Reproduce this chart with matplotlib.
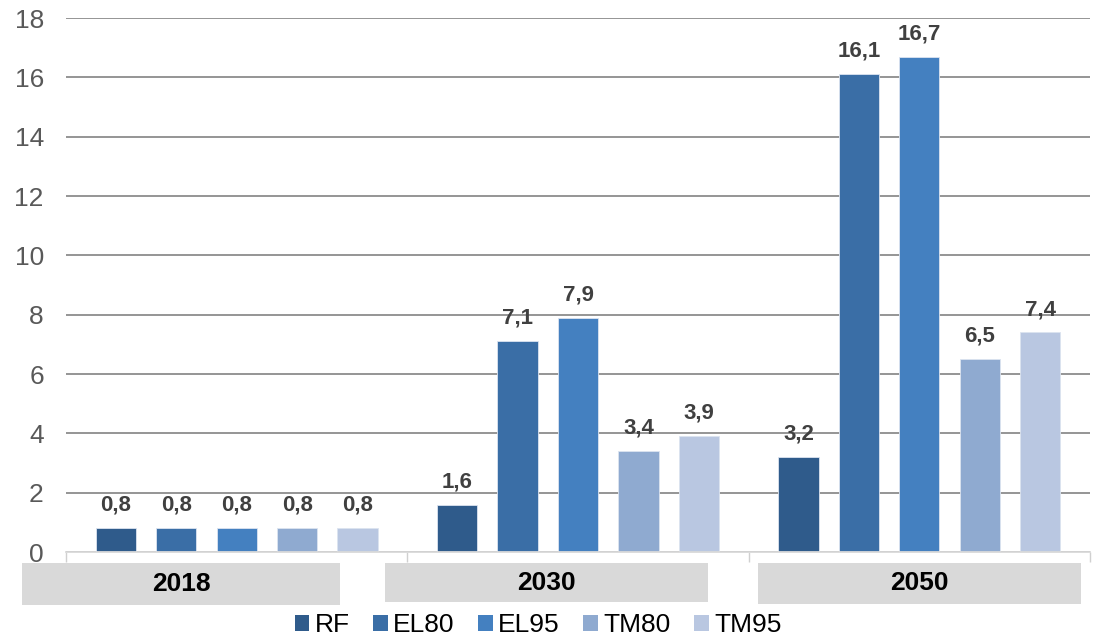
import numpy as np
import matplotlib
matplotlib.use('Agg')
import matplotlib.pyplot as plt
from matplotlib.patches import Rectangle

plt.rcParams['font.family'] = ['Liberation Sans', 'DejaVu Sans']

years = ['2018', '2030', '2050']
series = ['RF', 'EL80', 'EL95', 'TM80', 'TM95']
values = {
    'RF':   [0.8, 1.6, 3.2],
    'EL80': [0.8, 7.1, 16.1],
    'EL95': [0.8, 7.9, 16.7],
    'TM80': [0.8, 3.4, 6.5],
    'TM95': [0.8, 3.9, 7.4],
}
colors = ['#2F5B8B', '#3A6EA6', '#4480C0', '#8FAAD0', '#B9C7E1']

W, H = 1097, 638
fig = plt.figure(figsize=(W / 100, H / 100), dpi=100)
ax = fig.add_axes([66 / W, 1 - 552 / H, (1090 - 66) / W, (552 - 18) / H])

x = np.arange(len(years))
step = 0.177
width = 0.118
for i, (name, col) in enumerate(zip(series, colors)):
    pos = x + (i - 2) * step
    bars = ax.bar(pos, values[name], width, color=col, edgecolor='#dce4f0',
                  linewidth=0.6, label=name, zorder=3)
    for b, v in zip(bars, values[name]):
        ax.text(b.get_x() + b.get_width() / 2, v + 0.42, f'{v:.1f}'.replace('.', ','),
                ha='center', va='bottom', fontsize=16, fontweight='bold',
                color='#404040', zorder=4)

ax.set_xlim(-0.5, 2.5)
ax.set_ylim(0, 18)
ax.set_yticks(range(0, 19, 2))
ax.tick_params(axis='y', length=0, labelsize=19, labelcolor='#595959', pad=16)
ax.set_xticks([-0.5, 0.5, 1.5, 2.5])
ax.set_xticklabels([])
ax.tick_params(axis='x', length=7, color='#d0d0d0', width=1)
ax.yaxis.grid(True, color='#8c8c8c', linewidth=1.3, zorder=0)
for s in ['top', 'right', 'left']:
    ax.spines[s].set_visible(False)
ax.spines['bottom'].set_color('#d9d9d9')
ax.spines['bottom'].set_linewidth(1.3)
ax.spines['bottom'].set_zorder(5)

# gray year boxes under the groups
boxes = [(22, 340, 563, 605), (385, 708, 563, 602), (758, 1081, 563, 604)]
for (x0, x1, y0, y1), yr in zip(boxes, years):
    fig.patches.append(Rectangle((x0 / W, 1 - y1 / H), (x1 - x0) / W, (y1 - y0) / H,
                                 transform=fig.transFigure, facecolor='#d9d9d9',
                                 edgecolor='none'))
    fig.text((x0 + x1) / 2 / W, 1 - (y0 + y1) / 2 / H, yr, ha='center', va='center',
             fontsize=19, fontweight='bold', color='black')

leg = fig.legend(loc='center', bbox_to_anchor=(538 / W, 1 - 625 / H), ncol=5,
                 frameon=False, fontsize=19, handlelength=0.55, handleheight=0.55,
                 handletextpad=0.2, columnspacing=0.9, borderaxespad=0)
for h in leg.legend_handles:
    h.set_edgecolor('none')

fig.savefig('out.png', dpi=100)
